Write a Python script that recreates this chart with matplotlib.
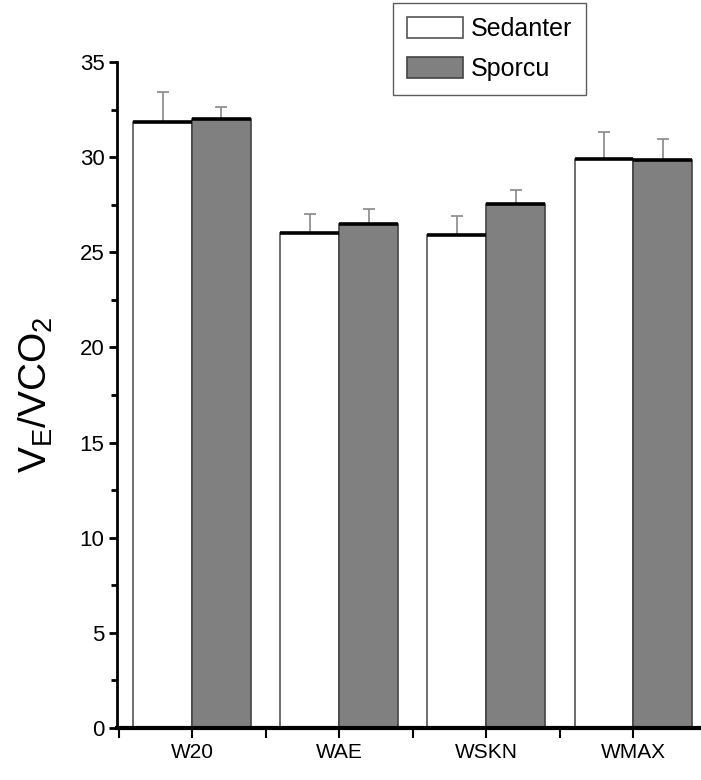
import numpy as np
import matplotlib.pyplot as plt
from matplotlib.ticker import MultipleLocator, FixedLocator

plt.rcParams['font.family'] = ['Liberation Sans', 'DejaVu Sans']
plt.rcParams['mathtext.default'] = 'regular'

categories = ['W20', 'WAE', 'WSKN', 'WMAX']
sedanter = [31.85, 26.0, 25.9, 29.9]
sedanter_err = [1.6, 1.0, 1.0, 1.4]
sporcu = [32.0, 26.5, 27.55, 29.85]
sporcu_err = [0.65, 0.75, 0.7, 1.1]

fig = plt.figure(figsize=(7.01, 7.8), dpi=100)
ax = fig.add_axes([0.167, 0.0667, 0.833, 0.8538])

x = np.arange(1, len(categories) + 1)
w = 0.4

b1 = ax.bar(x - w/2, sedanter, w, color='white', edgecolor='#555555', linewidth=1.2,
            label='Sedanter', zorder=2)
b2 = ax.bar(x + w/2, sporcu, w, color='#808080', edgecolor='#444444', linewidth=1.2,
            label='Sporcu', zorder=2)
# thick top edges like the original
ax.hlines(sedanter, x - w, x, colors='black', linewidth=2.6, zorder=3)
ax.hlines(sporcu, x, x + w, colors='black', linewidth=2.6, zorder=3)

z = np.zeros(len(categories))
ax.errorbar(x - w/2, sedanter, yerr=[z, sedanter_err], fmt='none', ecolor='#888888',
            elinewidth=1.2, capsize=4, capthick=1.2, zorder=1)
ax.errorbar(x + w/2, sporcu, yerr=[z, sporcu_err], fmt='none', ecolor='#888888',
            elinewidth=1.2, capsize=4, capthick=1.2, zorder=1)

ax.set_xlim(0.49, 4.46)
ax.set_ylim(0, 35)
ax.set_xticks(x)
ax.set_xticklabels(categories, fontsize=15)
ax.xaxis.set_minor_locator(FixedLocator(x - 0.5))
ax.yaxis.set_major_locator(MultipleLocator(5))
ax.yaxis.set_minor_locator(MultipleLocator(2.5))
ax.tick_params(axis='y', labelsize=16, width=2, length=6, direction='out', pad=3)
ax.tick_params(axis='y', which='minor', width=2, length=4)
ax.tick_params(axis='x', width=1.5, length=7, direction='out', pad=4)
ax.tick_params(axis='x', which='minor', width=1.5, length=7)

for s in ['top', 'right']:
    ax.spines[s].set_visible(False)
ax.spines['left'].set_linewidth(2)
ax.spines['bottom'].set_linewidth(3)

ax.set_ylabel('V$_E$/VCO$_2$', fontsize=28, labelpad=18)

leg = fig.legend(handles=[b1, b2], loc='upper left', bbox_to_anchor=(393/701, 1 - 3/780),
                 borderaxespad=0, fontsize=18, frameon=True, fancybox=False,
                 handlelength=2.25, handleheight=0.9, borderpad=0.55, labelspacing=0.65,
                 handletextpad=0.3)
leg.get_frame().set_edgecolor('#333333')
leg.get_frame().set_linewidth(1)

fig.savefig('out.png', dpi=100)
